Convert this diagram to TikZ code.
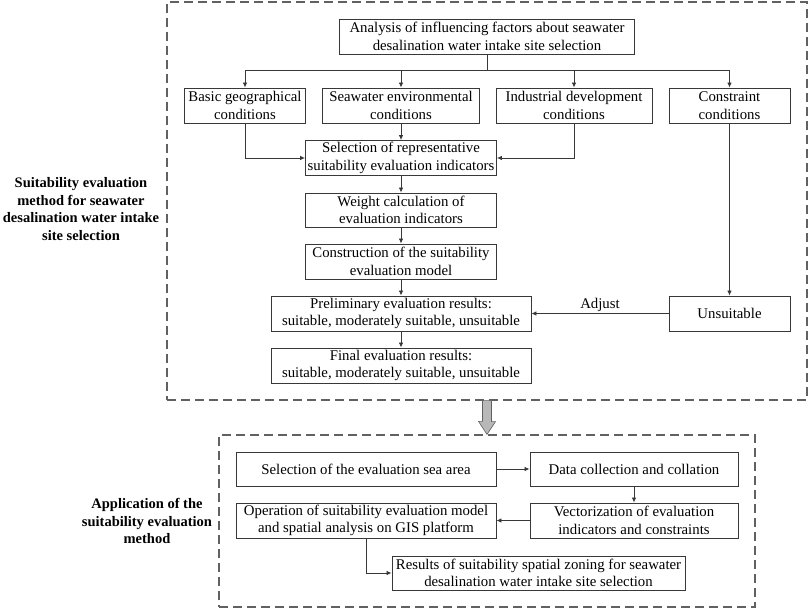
\documentclass[tikz,border=0pt]{standalone}
\usepackage{fontspec}
\setmainfont{Liberation Serif}
\usetikzlibrary{arrows.meta}

\definecolor{framegray}{rgb}{0.38,0.38,0.38}
\definecolor{linegray}{rgb}{0.22,0.22,0.22}
\definecolor{blockgray}{rgb}{0.72,0.72,0.72}

\tikzset{
    box/.style={draw=linegray, line width=0.9pt, align=center, inner sep=1pt, minimum height=35pt},
    frame/.style={draw=framegray, line width=1.2pt, dash pattern=on 9pt off 5pt},
    arr/.style={draw=linegray, line width=0.8pt, -{Latex[length=5pt,width=4.5pt]}},
    sidelabel/.style={align=center, font=\fontsize{14.5}{17.5}\selectfont\bfseries}
}

\begin{document}
\begin{tikzpicture}[x=1pt, y=-1pt, font=\fontsize{14.8}{17.5}\selectfont]
            \useasboundingbox (0,0) rectangle (809,610);

            \node[frame, minimum width=640pt, minimum height=398pt] (evalframe) at (487,201) {};
            \node[frame, minimum width=536pt, minimum height=172pt] (appframe) at (487,521) {};

            \node[sidelabel] (evallabel) at (81,209) {Suitability evaluation\\method for seawater\\desalination water intake\\site selection};
            \node[sidelabel] (applabel) at (147,521) {Application of the\\suitability evaluation\\method};

            \node[box, minimum width=295pt] (factors) at (487,36.5) {Analysis of influencing factors about seawater\\desalination water intake site selection};
            \coordinate (split) at (487,70);

            \node[box, minimum width=121pt] (geo) at (245,105.5) {Basic geographical\\conditions};
            \node[box, minimum width=157pt] (envir) at (401,105.5) {Seawater environmental\\conditions};
            \node[box, minimum width=156pt] (indus) at (574,105.5) {Industrial development\\conditions};
            \node[box, minimum width=121pt] (constr) at (729.5,105.5) {Constraint\\conditions};

            \node[box, minimum width=191pt] (indic) at (401,158) {Selection of representative\\suitability evaluation indicators};
            \node[box, minimum width=191pt, minimum height=34pt] (weight) at (401,210) {Weight calculation of\\evaluation indicators};
            \node[box, minimum width=191pt] (model) at (401,261.5) {Construction of the suitability\\evaluation model};
            \node[box, minimum width=260pt] (prelim) at (401,313.5) {Preliminary evaluation results:\\suitable, moderately suitable, unsuitable};
            \node[box, minimum width=260pt] (final) at (401,365.5) {Final evaluation results:\\suitable, moderately suitable, unsuitable};
            \node[box, minimum width=121pt] (unsuit) at (729.5,313.5) {Unsuitable};

            \node[box, minimum width=260pt, minimum height=34pt] (seaarea) at (366,469) {Selection of the evaluation sea area};
            \node[box, minimum width=208pt, minimum height=34pt] (collect) at (634,469) {Data collection and collation};
            \node[box, minimum width=208pt] (vector) at (634,520.5) {Vectorization of evaluation\\indicators and constraints};
            \node[box, minimum width=260pt] (gisop) at (366,520.5) {Operation of suitability evaluation model\\and spatial analysis on GIS platform};
            \node[box, minimum width=293pt, minimum height=34pt] (zoning) at (538.5,573) {Results of suitability spatial zoning for seawater\\desalination water intake site selection};

            \draw[draw=linegray, line width=0.8pt] (factors) -- (split);
            \draw[draw=linegray, line width=0.8pt] (geo |- split) -- (constr |- split);
            \draw[arr] (split) -| (geo);
            \draw[arr] (split) -| (envir);
            \draw[arr] (split) -| (indus);
            \draw[arr] (split) -| (constr);

            \draw[arr] (geo) |- (indic);
            \draw[arr] (envir) -- (indic);
            \draw[arr] (indus) |- (indic);
            \draw[arr] (indic) -- (weight);
            \draw[arr] (weight) -- (model);
            \draw[arr] (model) -- (prelim);
            \draw[arr] (prelim) -- (final);
            \draw[arr] (constr) -- (unsuit);
            \draw[arr] (unsuit) -- node[above, inner sep=1.5pt, pos=0.5] (adjust) {Adjust} (prelim);

            \filldraw[fill=blockgray, draw=framegray, line width=0.6pt] (evalframe.south) ++(-4.5,0) -- ++(9,0) -- ++(0,21) -- ++(4,0) -- (appframe.north) -- ++(-8.5,-13) -- ++(4,0) -- cycle;

            \draw[arr] (seaarea) -- (collect);
            \draw[arr] (collect) -- (vector);
            \draw[arr] (vector) -- (gisop);
            \draw[arr] (gisop) |- (zoning);
        \end{tikzpicture}
\end{document}
